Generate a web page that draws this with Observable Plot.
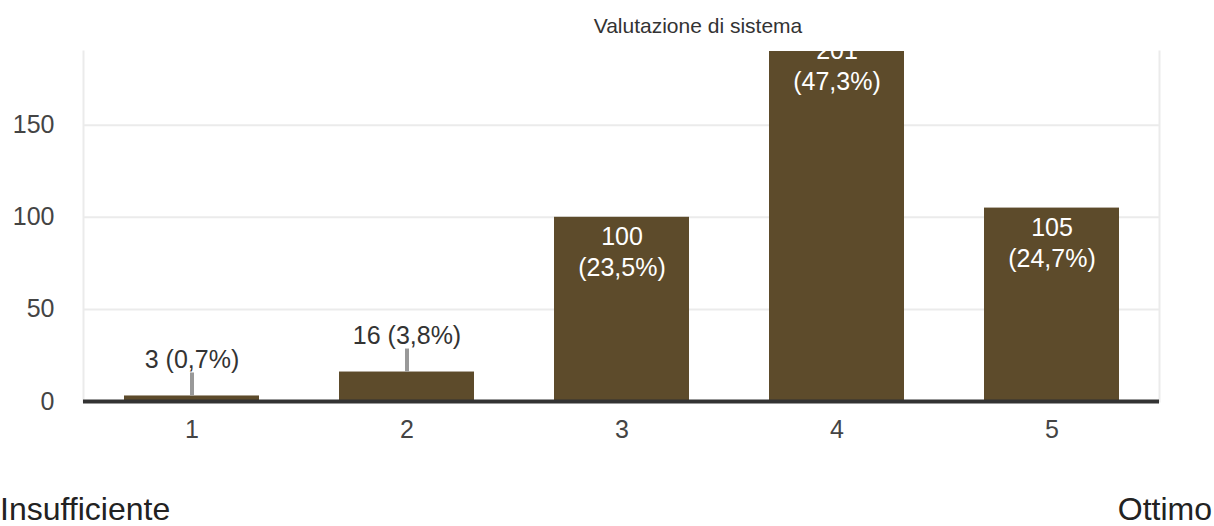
<!DOCTYPE html>
<html>
<head>
<meta charset="utf-8">
<script src="https://cdn.jsdelivr.net/npm/d3@7"></script>
<script src="https://cdn.jsdelivr.net/npm/@observablehq/plot@0.6"></script>
<style>
  html, body { margin: 0; padding: 0; background: #fff; overflow: hidden; }
  body { width: 1214px; height: 526px; font-family: "Liberation Sans", Arial, sans-serif; }
  #title { box-sizing: border-box; height: 40px; padding-top: 15px; padding-left: 182px; text-align: center;
           font-size: 21px; line-height: 1; color: #333; }
  #caption { display: flex; justify-content: space-between; margin-top: 36px; padding: 0 2px 0 0;
             font-size: 32px; line-height: 26px; height: 26px; color: #222; }
  svg { display: block; }
</style>
</head>
<body>
<div id="title"></div>
<div id="chart"></div>
<div id="caption"><span id="capLeft"></span><span id="capRight"></span></div>
<script>
const chartTitle = "Valutazione di sistema";
const categories = ["1", "2", "3", "4", "5"];
const counts = [3, 16, 100, 201, 105];
const percents = ["0,7%", "3,8%", "23,5%", "47,3%", "24,7%"];
const yTicks = [0, 50, 100, 150];
const yMax = 190;
const scaleLabels = ["Insufficiente", "Ottimo"];
const outsideThreshold = 50;

document.getElementById("title").textContent = chartTitle;
document.getElementById("capLeft").textContent = scaleLabels[0];
document.getElementById("capRight").textContent = scaleLabels[1];

const rows = categories.map((c, i) => ({cat: c, value: counts[i], pct: percents[i]}));
const outsideRows = rows.filter(d => d.value < outsideThreshold);
const insideRows = rows.filter(d => d.value >= outsideThreshold);

const H = 420, MT = 11, MB = 59;
const pxPerUnit = (H - MT - MB) / yMax;
const leaderUnits = 23 / pxPerUnit;

const chart = Plot.plot({
  width: 1214,
  height: H,
  marginTop: MT,
  marginBottom: MB,
  marginLeft: 83,
  marginRight: 55,
  style: {fontFamily: "'Liberation Sans', Arial, sans-serif", fontSize: "25px", color: "#444", background: "white", overflow: "visible"},
  x: {domain: categories, paddingInner: 0.373, paddingOuter: 0.1865, label: null, tickSize: 0, tickPadding: 19},
  y: {domain: [0, yMax], ticks: yTicks, label: null, tickSize: 0, tickPadding: 29},
  marks: [
    Plot.gridY(yTicks.filter(t => t > 0), {stroke: "#ebebeb", strokeOpacity: 1, strokeWidth: 2}),
    Plot.frame({anchor: "left", stroke: "#ebebeb", strokeWidth: 2}),
    Plot.frame({anchor: "right", stroke: "#ebebeb", strokeWidth: 2}),
    Plot.barY(rows, {x: "cat", y: "value", fill: "#5d4b2b", clip: true}),
    Plot.ruleX(outsideRows, {x: "cat", y1: "value", y2: d => d.value + leaderUnits, stroke: "#999", strokeWidth: 4}),
    Plot.text(outsideRows, {x: "cat", y: "value", text: d => `${d.value} (${d.pct})`, dy: -36, fill: "#333"}),
    Plot.text(insideRows, {x: "cat", y: "value", text: d => `${d.value}\n(${d.pct})`, lineAnchor: "top", dy: 6, lineHeight: 1.24, fill: "white", clip: true}),
    Plot.ruleY([0], {stroke: "#333", strokeWidth: 4})
  ]
});
document.getElementById("chart").appendChild(chart);
</script>
</body>
</html>
